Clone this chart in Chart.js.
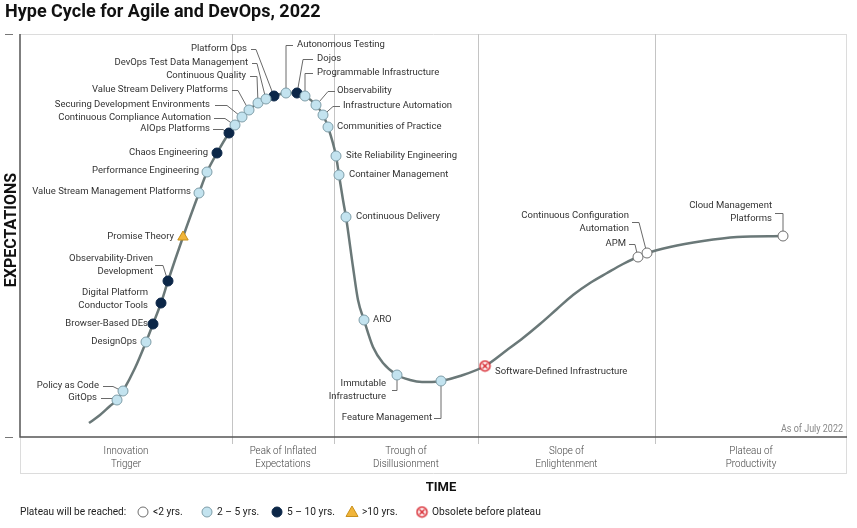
<!DOCTYPE html>
<html><head><meta charset="utf-8">
<script src="https://cdn.jsdelivr.net/npm/chart.js@4.4.1/dist/chart.umd.min.js"></script>
<style>html,body{margin:0;padding:0;background:#fff}#wrap{width:857px;height:528px}</style>
</head><body><div id="wrap"><canvas id="c" width="857" height="528"></canvas></div>
<script>
// ---------- DATA ----------
const techNames = [
  "GitOps","Policy as Code","DesignOps","Browser-Based DEs","Digital Platform Conductor Tools",
  "Observability-Driven Development","Promise Theory","Value Stream Management Platforms",
  "Performance Engineering","Chaos Engineering","AIOps Platforms","Continuous Compliance Automation",
  "Securing Development Environments","Value Stream Delivery Platforms","Continuous Quality",
  "DevOps Test Data Management","Platform Ops","Autonomous Testing","Dojos","Programmable Infrastructure",
  "Observability","Infrastructure Automation","Communities of Practice","Site Reliability Engineering",
  "Container Management","Continuous Delivery","ARO","Immutable Infrastructure","Feature Management",
  "Software-Defined Infrastructure","APM","Continuous Configuration Automation","Cloud Management Platforms"
];
const techX = [97,103,126,133,141,148,163,179,187,197,209,215,222,229,238,246,254,266,277,285,296,303,308,316,319,326,344,377,421,465,618,627,763];
const techY = [37,46,95,113,134,156,200,244,265,284,304,312,320,327,334,338,341,344,344,341,332,322,310,281,262,220,117,62,56,71,180,184,201];
const techCat = ["2-5","2-5","2-5","5-10","5-10","5-10",">10","2-5","2-5","5-10","5-10","2-5","2-5","2-5","2-5","2-5","5-10","2-5","5-10","2-5","2-5","2-5","2-5","2-5","2-5","2-5","2-5","2-5","2-5","obsolete","<2","<2","<2"];

const curveX = [69,80,90,97,103,115,126,133,141,148,163,179,187,197,209,215,222,229,238,246,254,266,277,285,296,303,308,316,319,323,326,333,338,344,353,363,377,390,402,412,421,440,465,487,503,520,537,553,570,587,603,625,650,683,717,763];
const curveY = [14,22,31,37,46,69,95,113,134,156,200,244,265,284,304,312,320,327,334,338,341,344,344,341,332,322,310,281,262,237,220,170,137,117,90,74,62,57,55,55,56,61,71,87,99,113,128,142,154,164,173,183,190,196,200,201];

const phaseNames = [["Innovation","Trigger"],["Peak of Inflated","Expectations"],["Trough of","Disillusionment"],["Slope of","Enlightenment"],["Plateau of","Productivity"]];
const phaseBounds = [0,212,314,458,635,827];

const legendCats = ["<2","2-5","5-10",">10","obsolete"];
const legendLabels = ["<2 yrs.","2 – 5 yrs.","5 – 10 yrs.",">10 yrs.","Obsolete before plateau"];

// ---------- LABEL LAYOUT (offsets from point, px) ----------
const labelLayout = [
  {lines:["GitOps"],align:"right",dx:-20,dy:-2,leader:[[-16,-2],[-5,-2],[0,0]]},
  {lines:["Policy as Code"],align:"right",dx:-24,dy:-5,leader:[[-20,-5],[-10,-5],[0,0]]},
  {lines:["DesignOps"],align:"right",dx:-9,dy:0},
  {lines:["Browser-Based DEs"],align:"right",dx:-5,dy:0},
  {lines:["Digital Platform","Conductor Tools"],align:"right",dx:-13,dy:-10},
  {lines:["Observability-Driven","Development"],align:"right",dx:-15,dy:-22,leader:[[-13,-16],[-5,-16],[0,0]]},
  {lines:["Promise Theory"],align:"right",dx:-9,dy:0},
  {lines:["Value Stream Management Platforms"],align:"right",dx:-8,dy:-1},
  {lines:["Performance Engineering"],align:"right",dx:-8,dy:-1},
  {lines:["Chaos Engineering"],align:"right",dx:-9,dy:0},
  {lines:["AIOps Platforms"],align:"right",dx:-19,dy:-4,leader:[[-16,-4],[-6,-4],[0,0]]},
  {lines:["Continuous Compliance Automation"],align:"right",dx:-24,dy:-7,leader:[[-21,-7],[-10,-7],[0,0]]},
  {lines:["Securing Development Environments"],align:"right",dx:-32,dy:-12,leader:[[-27,-12],[-15,-12],[0,0]]},
  {lines:["Value Stream Delivery Platforms"],align:"right",dx:-21,dy:-20,leader:[[-17,-20],[-11,-20],[0,0]]},
  {lines:["Continuous Quality"],align:"right",dx:-12,dy:-27,leader:[[-8,-27],[-1,-27],[0,0]]},
  {lines:["DevOps Test Data Management"],align:"right",dx:-18,dy:-36,leader:[[-14,-36],[-9,-36],[0,0]]},
  {lines:["Platform Ops"],align:"right",dx:-27,dy:-47,leader:[[-23,-47],[-18,-47],[0,0]]},
  {lines:["Autonomous Testing"],align:"left",dx:11,dy:-48,leader:[[0,0],[0,-48],[7,-48]]},
  {lines:["Dojos"],align:"left",dx:20,dy:-34,leader:[[0,0],[6,-34],[16,-34]]},
  {lines:["Programmable Infrastructure"],align:"left",dx:12,dy:-23,leader:[[0,0],[0,-23],[8,-23]]},
  {lines:["Observability"],align:"left",dx:21,dy:-14,leader:[[0,0],[12,-14],[19,-14]]},
  {lines:["Infrastructure Automation"],align:"left",dx:20,dy:-9,leader:[[0,0],[10,-9],[17,-9]]},
  {lines:["Communities of Practice"],align:"left",dx:9,dy:0},
  {lines:["Site Reliability Engineering"],align:"left",dx:10,dy:0},
  {lines:["Container Management"],align:"left",dx:10,dy:0},
  {lines:["Continuous Delivery"],align:"left",dx:10,dy:0},
  {lines:["ARO"],align:"left",dx:9,dy:0},
  {lines:["Immutable","Infrastructure"],align:"right",dx:-11,dy:9,leader:[[0,0],[0,15],[-5,15]]},
  {lines:["Feature Management"],align:"right",dx:-9,dy:37,leader:[[0,0],[0,37],[-7,37]]},
  {lines:["Software-Defined Infrastructure"],align:"left",dx:10,dy:6},
  {lines:["APM"],align:"right",dx:-12,dy:-13,leader:[[-9,-13],[-3,-13],[0,0]]},
  {lines:["Continuous Configuration","Automation"],align:"right",dx:-18,dy:-37,leader:[[-15,-31],[-8,-31],[0,0]]},
  {lines:["Cloud Management","Platforms"],align:"right",dx:-11,dy:-30,leader:[[-8,-23],[0,-23],[0,0]]}
];

// ---------- STYLES ----------
function makeObsoleteIcon(){
  const c=document.createElement('canvas');c.width=13;c.height=13;
  const g=c.getContext('2d');
  g.fillStyle='#fff';g.strokeStyle='#d7262e';g.lineWidth=1.5;
  g.beginPath();g.arc(6.5,6.5,5,0,Math.PI*2);g.fill();g.stroke();
  g.beginPath();g.moveTo(4,4);g.lineTo(9,9);g.moveTo(9,4);g.lineTo(4,9);g.stroke();
  return c;
}
const obsIcon = makeObsoleteIcon();
const catStyle = {
  "<2":{bg:"#ffffff",bd:"#6f6f6f",style:"circle",r:5},
  "2-5":{bg:"#c3e3ef",bd:"#7f9ea9",style:"circle",r:5},
  "5-10":{bg:"#0c2748",bd:"#0c2748",style:"circle",r:5},
  ">10":{bg:"#f1b53a",bd:"#c8901b",style:"triangle",r:6},
  "obsolete":{bg:"#fff",bd:"#d7262e",style:obsIcon,r:6}
};

const catDatasets = legendCats.map(cat=>{
  const s=catStyle[cat];
  const pts=[];
  techNames.forEach((n,i)=>{ if(techCat[i]===cat) pts.push({x:techX[i],y:techY[i]}); });
  return {type:'scatter',label:cat,data:pts,pointStyle:s.style,pointRadius:s.r,pointHoverRadius:s.r,
    backgroundColor:s.bg,borderColor:s.bd,pointBorderWidth:1,order:0,clip:false};
});

const curveDataset = {type:'line',label:'curve',data:curveX.map((x,i)=>({x:x,y:curveY[i]})),
  borderColor:'#6a7878',borderWidth:2.5,pointRadius:0,cubicInterpolationMode:'monotone',fill:false,order:10,clip:false};

const LABEL_FONT='9.5px Roboto';
const TXT='#333';

function condText(ctx,text,x,y,align,sx){
  ctx.save();ctx.translate(x,y);ctx.scale(sx,1);ctx.textAlign=align;ctx.fillText(text,0,0);ctx.restore();
}

const hypePlugin = {
  id:'hype',
  beforeDraw(chart){
    const ctx=chart.ctx, a=chart.chartArea, xs=chart.scales.x;
    ctx.save();
    ctx.fillStyle='#fff';ctx.fillRect(0,0,chart.width,chart.height);
    const bandBottom=a.bottom+36;
    ctx.strokeStyle='#dcdcdc';ctx.lineWidth=1;
    ctx.beginPath();
    ctx.moveTo(a.left,a.top+0.5);ctx.lineTo(a.right,a.top+0.5);
    ctx.moveTo(a.right-0.5,a.top);ctx.lineTo(a.right-0.5,bandBottom);
    ctx.moveTo(a.left,bandBottom+0.5);ctx.lineTo(a.right,bandBottom+0.5);
    ctx.moveTo(a.left+0.5,a.bottom);ctx.lineTo(a.left+0.5,bandBottom);
    ctx.stroke();
    ctx.strokeStyle='#c4c4c4';
    for(let i=1;i<phaseBounds.length-1;i++){
      const px=Math.round(xs.getPixelForValue(phaseBounds[i]))+0.5;
      ctx.beginPath();ctx.moveTo(px,a.top);ctx.lineTo(px,a.bottom+7);ctx.stroke();
    }
    ctx.strokeStyle='#555';ctx.lineWidth=1.5;
    ctx.beginPath();ctx.moveTo(a.left,a.top);ctx.lineTo(a.left,a.bottom);ctx.lineTo(a.right,a.bottom);ctx.stroke();
    ctx.lineWidth=1;ctx.strokeStyle='#777';
    ctx.beginPath();ctx.moveTo(5,a.top+0.5);ctx.lineTo(13,a.top+0.5);ctx.moveTo(5,a.bottom+0.5);ctx.lineTo(13,a.bottom+0.5);ctx.stroke();
    ctx.restore();
  },
  beforeDatasetsDraw(chart){
    const ctx=chart.ctx, xs=chart.scales.x, ys=chart.scales.y;
    ctx.save();ctx.strokeStyle='#6a6a6a';ctx.lineWidth=1;
    labelLayout.forEach((L,i)=>{
      if(!L.leader) return;
      const px=xs.getPixelForValue(techX[i]), py=ys.getPixelForValue(techY[i]);
      ctx.beginPath();
      L.leader.forEach((p,k)=>{ const X=px+p[0], Y=py+p[1]+0.5; if(k===0)ctx.moveTo(X,Y); else ctx.lineTo(X,Y); });
      ctx.stroke();
    });
    ctx.restore();
  },
  afterDatasetsDraw(chart){
    const ctx=chart.ctx, xs=chart.scales.x, ys=chart.scales.y, a=chart.chartArea;
    ctx.save();
    ctx.font=LABEL_FONT;ctx.fillStyle=TXT;ctx.textBaseline='middle';
    labelLayout.forEach((L,i)=>{
      const px=xs.getPixelForValue(techX[i]), py=ys.getPixelForValue(techY[i]);
      ctx.textAlign=L.align;
      L.lines.forEach((t,k)=>ctx.fillText(t,px+L.dx,py+L.dy+k*13));
    });
    ctx.textAlign='left';ctx.fillStyle='#111';ctx.font='bold 18px Roboto';
    ctx.fillText('Hype Cycle for Agile and DevOps, 2022',5,12);
    ctx.save();ctx.translate(12,230);ctx.rotate(-Math.PI/2);ctx.textAlign='center';ctx.font='bold 16px Roboto';ctx.fillText('EXPECTATIONS',0,0);ctx.restore();
    ctx.textAlign='center';ctx.font='bold 13px Roboto';ctx.fillText('TIME',441,488);
    ctx.font='10px Roboto';ctx.fillStyle='#888';
    condText(ctx,'As of July 2022',a.right-4,a.bottom-8,'right',0.9);
    ctx.fillStyle='#444';ctx.font='300 11.5px Roboto';
    for(let i=0;i<phaseNames.length;i++){
      const cx=(xs.getPixelForValue(phaseBounds[i])+xs.getPixelForValue(phaseBounds[i+1]))/2;
      condText(ctx,phaseNames[i][0],cx,a.bottom+14,'center',0.85);
      condText(ctx,phaseNames[i][1],cx,a.bottom+27,'center',0.85);
    }
    ctx.fillStyle='#222';ctx.font='11px Roboto';
    const ly=512;
    condText(ctx,'Plateau will be reached:',20,ly,'left',0.92);
    const iconX=[143,207,277,352,422];
    legendCats.forEach((cat,i)=>{
      const s=catStyle[cat], x=iconX[i];
      ctx.save();
      if(cat==='obsolete'){ ctx.drawImage(obsIcon,x-6.5,ly-6.5); }
      else if(cat==='>10'){ ctx.fillStyle=s.bg;ctx.strokeStyle=s.bd;ctx.beginPath();ctx.moveTo(x,ly-6);ctx.lineTo(x+6,ly+4.5);ctx.lineTo(x-6,ly+4.5);ctx.closePath();ctx.fill();ctx.stroke(); }
      else { ctx.fillStyle=s.bg;ctx.strokeStyle=s.bd;ctx.beginPath();ctx.arc(x,ly,5,0,Math.PI*2);ctx.fill();ctx.stroke(); }
      ctx.restore();
      condText(ctx,legendLabels[i],x+10,ly,'left',0.93);
    });
    ctx.restore();
  }
};

new Chart(document.getElementById('c'),{
  data:{datasets:[...catDatasets,curveDataset]},
  options:{
    responsive:false,devicePixelRatio:1,animation:false,
    layout:{padding:{left:20,right:10,top:34,bottom:91}},
    scales:{
      x:{type:'linear',min:0,max:827,display:false},
      y:{type:'linear',min:0,max:403,display:false}
    },
    plugins:{legend:{display:false},tooltip:{enabled:false}}
  },
  plugins:[hypePlugin]
});
</script></body></html>
